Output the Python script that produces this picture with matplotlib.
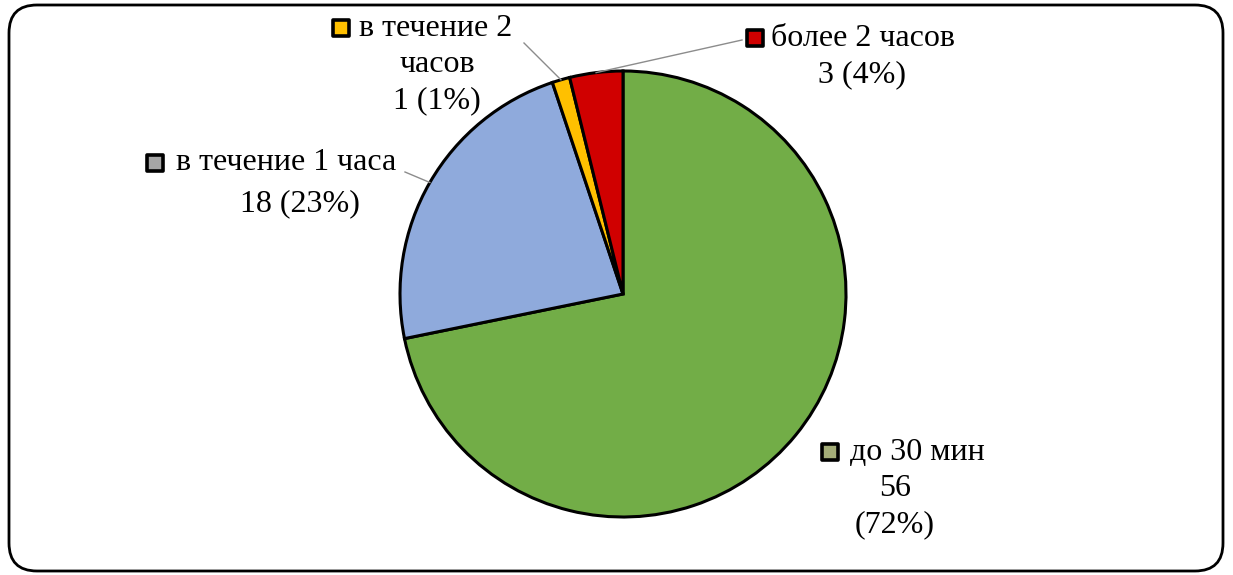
import matplotlib.pyplot as plt
from matplotlib.patches import FancyBboxPatch
import numpy as np

plt.rcParams['font.family'] = ['Liberation Serif', 'DejaVu Serif']

# данные
categories = ['до 30 мин', 'в течение 1 часа', 'в течение 2 часов', 'более 2 часов']
values = [56, 18, 1, 3]
percents = ['72%', '23%', '1%', '4%']
slice_colors = ['#72AD47', '#8FAADC', '#FFC000', '#D00000']
marker_colors = ['#A4AD78', '#A6A6A6', '#FFC000', '#D00000']

W, H = 1233, 575
fig = plt.figure(figsize=(W / 100, H / 100), dpi=100)
ax = fig.add_axes([0, 0, 1, 1])
ax.set_xlim(0, W)
ax.set_ylim(0, H)
ax.set_aspect('equal')
ax.axis('off')

# рамка со скругленными углами
frame = FancyBboxPatch((9, 4), W - 19, H - 9, boxstyle='round,pad=0,rounding_size=28',
                       transform=ax.transData, fc='white', ec='black', lw=2.0, zorder=0)
ax.add_patch(frame)

cx, cy, r = 623, H - 294, 223
wedges, _ = ax.pie(values, colors=slice_colors, startangle=90, counterclock=False,
                   center=(cx, cy), radius=r,
                   wedgeprops=dict(edgecolor='black', linewidth=2.2))
ax.set_xlim(0, W)
ax.set_ylim(0, H)

fs = 23

def put_label(i, mx, my, lines_xy):
    # маркер-квадрат
    ax.scatter([mx], [H - my], marker='s', s=120, c=marker_colors[i],
               edgecolors='black', linewidths=2.6, zorder=5)
    for txt, x, y, ha in lines_xy:
        ax.text(x, H - y, txt, fontsize=fs, ha=ha, va='center', zorder=5)

put_label(0, 830, 452, [(categories[0], 850, 452, 'left'),
                        (str(values[0]), 895, 489, 'center'),
                        ('(' + percents[0] + ')', 895, 525, 'center')])
put_label(1, 155, 163, [(categories[1], 176, 163, 'left'),
                        (f'{values[1]} ({percents[1]})', 300, 204, 'center')])
put_label(2, 341, 28, [('в течение 2', 359, 28, 'left'),
                       ('часов', 437, 65, 'center'),
                       (f'{values[2]} ({percents[2]})', 437, 101, 'center')])
put_label(3, 755, 38, [(categories[3], 771, 38, 'left'),
                       (f'{values[3]} ({percents[3]})', 862, 75, 'center')])

# линии выносок
def leader(w, x2, y2):
    ang = np.deg2rad((w.theta1 + w.theta2) / 2)
    x1 = cx + r * np.cos(ang)
    y1 = cy + r * np.sin(ang)
    ax.plot([x1, x2], [y1, H - y2], color='#8C8C8C', lw=1.0, zorder=4)

leader(wedges[1], 405, 172)
leader(wedges[2], 524, 43)
leader(wedges[3], 742, 40)

fig.savefig('out.png', dpi=100)
